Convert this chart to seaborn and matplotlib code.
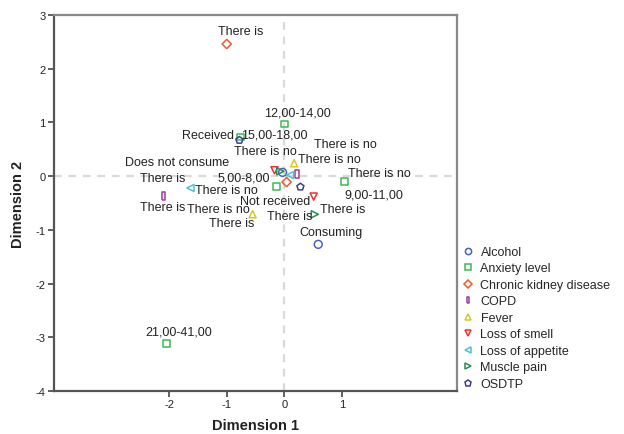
import matplotlib
matplotlib.use("Agg")
import matplotlib.pyplot as plt
import seaborn as sns
import pandas as pd
from matplotlib.lines import Line2D

# ---------------- data ----------------
variables = ["Alcohol", "Anxiety level", "Chronic kidney disease", "COPD", "Fever",
             "Loss of smell", "Loss of appetite", "Muscle pain", "OSDTP"]

alcohol_labels = ["Consuming", "Does not consume"]
alcohol_x = [0.59, -0.03]
alcohol_y = [-1.27, 0.07]

anxiety_labels = ["12,00-14,00", "15,00-18,00", "5,00-8,00", "9,00-11,00", "21,00-41,00"]
anxiety_x = [0.00, -0.76, -0.14, 1.04, -2.05]
anxiety_y = [0.97, 0.73, -0.19, -0.10, -3.11]

ckd_labels = ["There is", "There is no"]
ckd_x = [-1.00, 0.04]
ckd_y = [2.46, -0.11]

copd_labels = ["There is", "There is no"]
copd_x = [-2.10, 0.22]
copd_y = [-0.37, 0.04]

fever_labels = ["There is no", "There is"]
fever_x = [0.17, -0.55]
fever_y = [0.24, -0.71]

smell_labels = ["There is no", "There is"]
smell_x = [-0.17, 0.51]
smell_y = [0.11, -0.38]

appetite_labels = ["There is no", "There is"]
appetite_x = [-1.63, 0.10]
appetite_y = [-0.22, 0.02]

muscle_labels = ["There is", "There is no"]
muscle_x = [0.53, -0.07]
muscle_y = [-0.71, 0.09]

osdtp_labels = ["Received", "Not received"]
osdtp_x = [-0.78, 0.28]
osdtp_y = [0.67, -0.20]

# label offsets (pixels) relative to each point
alcohol_off = [(13, 12), (-105, 10)]
anxiety_off = [(13, 12), (34, 2), (-32, 9), (30, -13), (12, 12)]
ckd_off = [(14, 13), (93, 9)]
copd_off = [(-1, -11), (48, 30)]
fever_off = [(35, 4), (-21, -9)]
smell_off = [(-9, 19), (29, -12)]
appetite_off = [(36, -2), (-127, -3)]
muscle_off = [(-25, -2), (-62, -38)]
osdtp_off = [(-31, 5), (-25, -14)]

groups = [
    (alcohol_labels, alcohol_x, alcohol_y, alcohol_off),
    (anxiety_labels, anxiety_x, anxiety_y, anxiety_off),
    (ckd_labels, ckd_x, ckd_y, ckd_off),
    (copd_labels, copd_x, copd_y, copd_off),
    (fever_labels, fever_x, fever_y, fever_off),
    (smell_labels, smell_x, smell_y, smell_off),
    (appetite_labels, appetite_x, appetite_y, appetite_off),
    (muscle_labels, muscle_x, muscle_y, muscle_off),
    (osdtp_labels, osdtp_x, osdtp_y, osdtp_off),
]

colors = ["#4a62b8", "#3cb950", "#f5582c", "#9b3f9c", "#d2cc1e",
          "#ee3131", "#4cc3d3", "#2b8a55", "#3c3c94"]
rect = [(-0.45, -1), (0.45, -1), (0.45, 1), (-0.45, 1), (-0.45, -1)]
markers = ["o", "s", "D", rect, "^", "v", "<", ">", "p"]
sizes = [32, 24, 22, 28, 26, 26, 26, 26, 28]

# ---------------- plot ----------------
sns.set_theme(style="white")
plt.rcParams["font.family"] = ["Liberation Sans", "DejaVu Sans"]
plt.rcParams["axes.unicode_minus"] = False

fig = plt.figure(figsize=(6.24, 4.35), dpi=100)
ax = fig.add_axes([54 / 624, 43 / 435, (457 - 54) / 624, (392 - 16) / 435])

ax.axvline(0, color="#dadada", lw=1.6, ls=(0, (3.5, 3)), zorder=0)
ax.axhline(0, color="#dadada", lw=1.6, ls=(0, (3.5, 3)), zorder=0)

handles = []
for (name, (labs, xs, ys, offs), c, m, s) in zip(variables, groups, colors, markers, sizes):
    df = pd.DataFrame({"x": xs, "y": ys})
    sns.scatterplot(data=df, x="x", y="y", marker=m, s=s, color=c,
                    facecolor="none", edgecolor=c, linewidth=1.1, ax=ax, zorder=3)
    for lab, xv, yv, (dx, dy) in zip(labs, xs, ys, offs):
        ax.annotate(lab, (xv, yv), xytext=(dx, dy), textcoords="offset pixels",
                    ha="center", va="center", fontsize=9, color="#222222", zorder=4)
    handles.append(Line2D([], [], linestyle="none", marker=m, markersize=4.5,
                          markerfacecolor="none", markeredgecolor=c,
                          markeredgewidth=1.1, label=name))

ax.set_xlim(-4, 3)
ax.set_ylim(-4, 3)
ax.set_xticks([-2, -1, 0, 1])
ax.set_yticks([-4, -3, -2, -1, 0, 1, 2, 3])
ax.tick_params(axis="both", direction="out", length=4, width=1.2, color="#444444",
               labelsize=8, labelcolor="#222222", pad=2)
ax.tick_params(axis="both", which="both", bottom=True, left=True)

for side in ["left", "bottom"]:
    ax.spines[side].set_color("#555555")
    ax.spines[side].set_linewidth(1.6)
for side in ["top", "right"]:
    ax.spines[side].set_color("#888888")
    ax.spines[side].set_linewidth(1.6)

ax.set_xlabel("Dimension 1", fontsize=10.5, fontweight="bold", color="#222222", labelpad=6)
ax.set_ylabel("Dimension 2", fontsize=10.5, fontweight="bold", color="#222222", labelpad=8)

leg = fig.legend(handles=handles, loc="upper left", bbox_to_anchor=(463 / 624, 1 - 247 / 435),
                 frameon=False, fontsize=9, handlelength=0.8, handletextpad=0.6,
                 labelspacing=0.36, borderaxespad=0, borderpad=0)

fig.savefig("out.png", dpi=100)
